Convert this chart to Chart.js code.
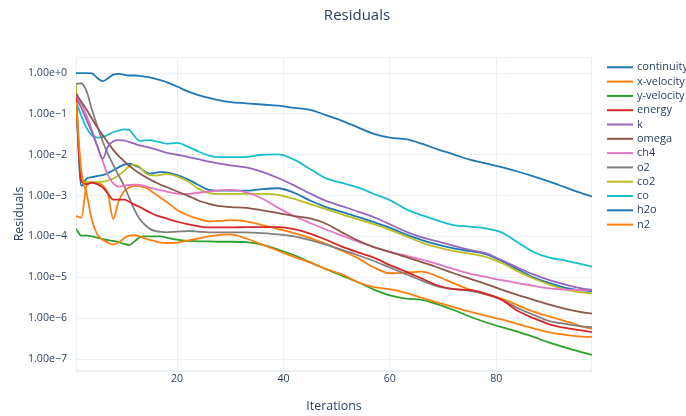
<!DOCTYPE html>
<html>
<head>
<meta charset="utf-8">
<script src="https://cdn.jsdelivr.net/npm/chart.js@4/dist/chart.umd.min.js"></script>
<style>
  html, body { margin: 0; padding: 0; background: #ffffff; }
  #wrap { width: 686px; height: 416px; }
</style>
</head>
<body>
<div id="wrap"><canvas id="c" width="686" height="416"></canvas></div>
<script>
// Solver iterations at which residuals were sampled
const iterations = [1, 2, 3, 4, 5, 6, 7, 8, 9, 10, 11, 12, 13, 14, 15, 16, 17, 18,
  20, 22, 24, 26, 28, 30,
  33, 36, 39, 42, 45, 48, 51, 54, 57, 60, 63, 66, 69, 72, 75, 78, 81, 84, 87, 90, 93, 96,
  98];

// Residuals per equation, stored as log10 exponents
const continuity = [0, 0, 0, -0.01, -0.12, -0.2, -0.13, -0.04, -0.02, -0.04, -0.06, -0.06, -0.07, -0.09, -0.11, -0.14, -0.18, -0.22,
  -0.33, -0.45, -0.54, -0.61, -0.67, -0.71,
  -0.74, -0.77, -0.80, -0.85, -0.90, -1.03, -1.17, -1.33, -1.49, -1.58, -1.62, -1.73, -1.87, -1.99, -2.12, -2.21, -2.30, -2.41, -2.53, -2.66, -2.80, -2.94,
  -3.02];
const xVelocity = [-0.7, -2.4, -2.95, -3.6, -3.95, -4.08, -4.15, -4.2, -4.15, -4.05, -3.98, -3.97, -4.0, -4.05, -4.09, -4.12, -4.15, -4.16,
  -4.15, -4.1, -4.05, -4.0, -3.96, -3.95,
  -4.05, -4.2, -4.35, -4.5, -4.64, -4.8, -4.93, -5.12, -5.24, -5.29, -5.38, -5.5, -5.62, -5.73, -5.84, -5.94, -6.03, -6.14, -6.25, -6.35, -6.41, -6.45,
  -6.46];
const yVelocity = [-3.81, -3.98, -3.98, -4.0, -4.03, -4.06, -4.09, -4.11, -4.14, -4.18, -4.21, -4.12, -4.02, -4.0, -4.0, -4.0, -4.0, -4.03,
  -4.08, -4.11, -4.12, -4.12, -4.13, -4.13,
  -4.14, -4.2, -4.32, -4.46, -4.63, -4.8, -4.96, -5.12, -5.3, -5.44, -5.52, -5.55, -5.66, -5.8, -5.96, -6.1, -6.22, -6.33, -6.46, -6.6, -6.72, -6.83,
  -6.9];
const energy = [-0.6, -2.65, -2.72, -2.68, -2.72, -2.8, -2.95, -3.1, -3.1, -3.1, -3.15, -3.22, -3.28, -3.35, -3.42, -3.48, -3.52, -3.56,
  -3.64, -3.7, -3.75, -3.78, -3.78, -3.78,
  -3.77, -3.77, -3.77, -3.82, -3.93, -4.08, -4.25, -4.39, -4.52, -4.7, -4.86, -5.03, -5.2, -5.29, -5.31, -5.4, -5.55, -5.82, -6.0, -6.15, -6.24, -6.3,
  -6.34];
const k = [-0.6, -0.85, -1.15, -1.45, -1.78, -2.1, -1.8, -1.67, -1.64, -1.65, -1.69, -1.73, -1.77, -1.8, -1.83, -1.87, -1.91, -1.95,
  -2.0, -2.05, -2.11, -2.17, -2.22, -2.26,
  -2.31, -2.42, -2.57, -2.75, -2.95, -3.13, -3.26, -3.39, -3.53, -3.7, -3.88, -4.02, -4.12, -4.23, -4.33, -4.41, -4.58, -4.76, -4.93, -5.07, -5.18, -5.27,
  -5.31];
const omega = [-0.5, -0.7, -0.9, -1.12, -1.33, -1.52, -1.7, -1.88, -2.03, -2.15, -2.27, -2.37, -2.46, -2.54, -2.61, -2.68, -2.74, -2.79,
  -2.9, -3.0, -3.12, -3.2, -3.26, -3.28,
  -3.3, -3.36, -3.43, -3.5, -3.56, -3.69, -3.9, -4.1, -4.26, -4.38, -4.5, -4.63, -4.76, -4.9, -5.03, -5.16, -5.3, -5.43, -5.55, -5.67, -5.77, -5.85,
  -5.89];
const ch4 = [-0.55, -0.75, -1.05, -1.4, -1.8, -2.15, -2.5, -2.7, -2.78, -2.76, -2.74, -2.73, -2.74, -2.77, -2.81, -2.84, -2.87, -2.9,
  -2.95, -2.96, -2.93, -2.9, -2.87, -2.86,
  -2.92, -3.07, -3.3, -3.5, -3.67, -3.83, -3.98, -4.13, -4.26, -4.38, -4.47, -4.57, -4.68, -4.8, -4.91, -4.99, -5.07, -5.14, -5.21, -5.27, -5.3, -5.31,
  -5.31];
const o2 = [-0.27, -0.25, -0.45, -0.9, -1.3, -1.67, -1.98, -2.25, -2.5, -2.75, -3.05, -3.35, -3.58, -3.72, -3.82, -3.87, -3.89, -3.9,
  -3.88, -3.87, -3.88, -3.9, -3.9, -3.9,
  -3.9, -3.92, -3.95, -4.0, -4.09, -4.2, -4.33, -4.46, -4.6, -4.76, -4.92, -5.08, -5.22, -5.29, -5.33, -5.41, -5.55, -5.75, -5.92, -6.07, -6.14, -6.2,
  -6.22];
const co2 = [-0.27, -2.6, -2.67, -2.67, -2.67, -2.66, -2.63, -2.58, -2.5, -2.4, -2.28, -2.24, -2.3, -2.44, -2.5, -2.51, -2.49, -2.47,
  -2.53, -2.65, -2.83, -2.94, -2.96, -2.96,
  -2.96, -2.96, -2.98, -3.08, -3.21, -3.33, -3.46, -3.58, -3.7, -3.84, -3.99, -4.15, -4.27, -4.36, -4.42, -4.5, -4.65, -4.85, -5.03, -5.18, -5.3, -5.37,
  -5.39];
const co = [-0.68, -1.05, -1.35, -1.53, -1.58, -1.57, -1.51, -1.45, -1.41, -1.38, -1.39, -1.55, -1.66, -1.65, -1.64, -1.67, -1.7, -1.73,
  -1.71, -1.8, -1.92, -2.02, -2.06, -2.06,
  -2.05, -2.0, -1.99, -2.12, -2.35, -2.58, -2.69, -2.8, -2.96, -3.11, -3.33, -3.48, -3.61, -3.72, -3.76, -3.8, -3.9, -4.14, -4.38, -4.52, -4.59, -4.68,
  -4.74];
const h2o = [-0.65, -2.76, -2.58, -2.55, -2.52, -2.5, -2.45, -2.38, -2.31, -2.24, -2.22, -2.26, -2.32, -2.42, -2.46, -2.44, -2.42, -2.43,
  -2.5, -2.6, -2.74, -2.86, -2.88, -2.88,
  -2.88, -2.84, -2.82, -2.93, -3.12, -3.28, -3.4, -3.52, -3.65, -3.79, -3.95, -4.09, -4.2, -4.29, -4.36, -4.43, -4.6, -4.8, -5.0, -5.14, -5.26, -5.32,
  -5.34];
const n2 = [-3.5, -3.54, -2.75, -2.68, -2.68, -2.75, -2.95, -3.57, -3.15, -2.9, -2.8, -2.76, -2.77, -2.8, -2.88, -2.97, -3.06, -3.15,
  -3.35, -3.48, -3.57, -3.63, -3.62, -3.6,
  -3.63, -3.72, -3.82, -3.92, -4.04, -4.18, -4.35, -4.53, -4.76, -4.9, -4.89, -4.86, -4.98, -5.15, -5.3, -5.42, -5.52, -5.68, -5.84, -5.96, -6.07, -6.2,
  -6.26];

const seriesNames = ['continuity', 'x-velocity', 'y-velocity', 'energy', 'k', 'omega', 'ch4', 'o2', 'co2', 'co', 'h2o', 'n2'];
const seriesLogs = [continuity, xVelocity, yVelocity, energy, k, omega, ch4, o2, co2, co, h2o, n2];
const seriesColors = ['#1f77b4', '#ff7f0e', '#2ca02c', '#d62728', '#9467bd', '#8c564b',
                      '#e377c2', '#7f7f7f', '#bcbd22', '#17becf', '#1f77b4', '#ff7f0e'];
const decadeTicks = [1e-7, 1e-6, 1e-5, 1e-4, 1e-3, 1e-2, 1e-1, 1];
const iterationTicks = [20, 40, 60, 80];

const TEXT = '#2a3f5f';
const GRID = '#ebf0f8';
const FONT = "'Open Sans', 'Noto Sans', sans-serif";

const datasets = seriesNames.map((name, i) => ({
  label: name,
  data: iterations.map((it, j) => ({ x: it, y: Math.pow(10, seriesLogs[i][j]) })),
  borderColor: seriesColors[i],
  backgroundColor: seriesColors[i],
  borderWidth: 1.8,
  pointRadius: 0,
  pointHoverRadius: 0,
  fill: false,
  cubicInterpolationMode: 'monotone'
}));

// Frame around the plotting area, chart title and line-sample legend
const decorations = {
  id: 'decorations',
  beforeDatasetsDraw(chart) {
    const { ctx, chartArea: a } = chart;
    ctx.save();
    ctx.strokeStyle = GRID;
    ctx.lineWidth = 1;
    ctx.strokeRect(Math.round(a.left) + 0.5, Math.round(a.top) + 0.5,
                   Math.round(a.right - a.left) - 1, Math.round(a.bottom - a.top) - 1);
    ctx.restore();
  },
  afterDraw(chart) {
    const { ctx } = chart;
    ctx.save();
    ctx.fillStyle = TEXT;
    ctx.textAlign = 'center';
    ctx.textBaseline = 'middle';
    ctx.font = '15px ' + FONT;
    ctx.fillText('Residuals', 357, 16);

    ctx.font = '11px ' + FONT;
    ctx.textAlign = 'left';
    chart.data.datasets.forEach((ds, i) => {
      const y = 67.3 + i * 14.3;
      ctx.strokeStyle = ds.borderColor;
      ctx.lineWidth = 2;
      ctx.beginPath();
      ctx.moveTo(607, y);
      ctx.lineTo(633, y);
      ctx.stroke();
      ctx.fillStyle = TEXT;
      ctx.fillText(ds.label, 637, y);
    });
    ctx.restore();
  }
};

new Chart(document.getElementById('c'), {
  type: 'line',
  data: { datasets },
  options: {
    responsive: false,
    animation: false,
    devicePixelRatio: 1,
    layout: { padding: { left: 0, right: 94, top: 57, bottom: 0 } },
    plugins: {
      legend: { display: false },
      title: { display: false },
      tooltip: { enabled: false }
    },
    scales: {
      x: {
        type: 'linear',
        min: 1,
        max: 98,
        afterBuildTicks(scale) { scale.ticks = iterationTicks.map(v => ({ value: v })); },
        afterFit(scale) { scale.height = 45; },
        grid: { color: GRID, drawTicks: false },
        border: { display: true, color: GRID },
        ticks: { color: TEXT, font: { family: FONT, size: 10.6 }, padding: 2, maxRotation: 0 },
        title: { display: true, text: 'Iterations', color: TEXT,
                 font: { family: FONT, size: 12.4 }, padding: { top: 0, bottom: 2.5 } }
      },
      y: {
        type: 'logarithmic',
        min: 5.09e-8,
        max: 2.47,
        afterBuildTicks(scale) { scale.ticks = decadeTicks.map(v => ({ value: v })); },
        afterFit(scale) { scale.width = 76; },
        grid: { color: GRID, drawTicks: false },
        border: { display: true, color: GRID },
        ticks: {
          color: TEXT,
          font: { family: FONT, size: 10.6 },
          padding: 9,
          callback(value) {
            const e = Math.round(Math.log10(value));
            return '1.00e' + (e >= 0 ? '+' : '\u2212') + Math.abs(e);
          }
        },
        title: { display: true, text: 'Residuals', color: TEXT,
                 font: { family: FONT, size: 12.4 }, padding: { top: 12.5, bottom: 0 } }
      }
    }
  },
  plugins: [decorations]
});
</script>
</body>
</html>
